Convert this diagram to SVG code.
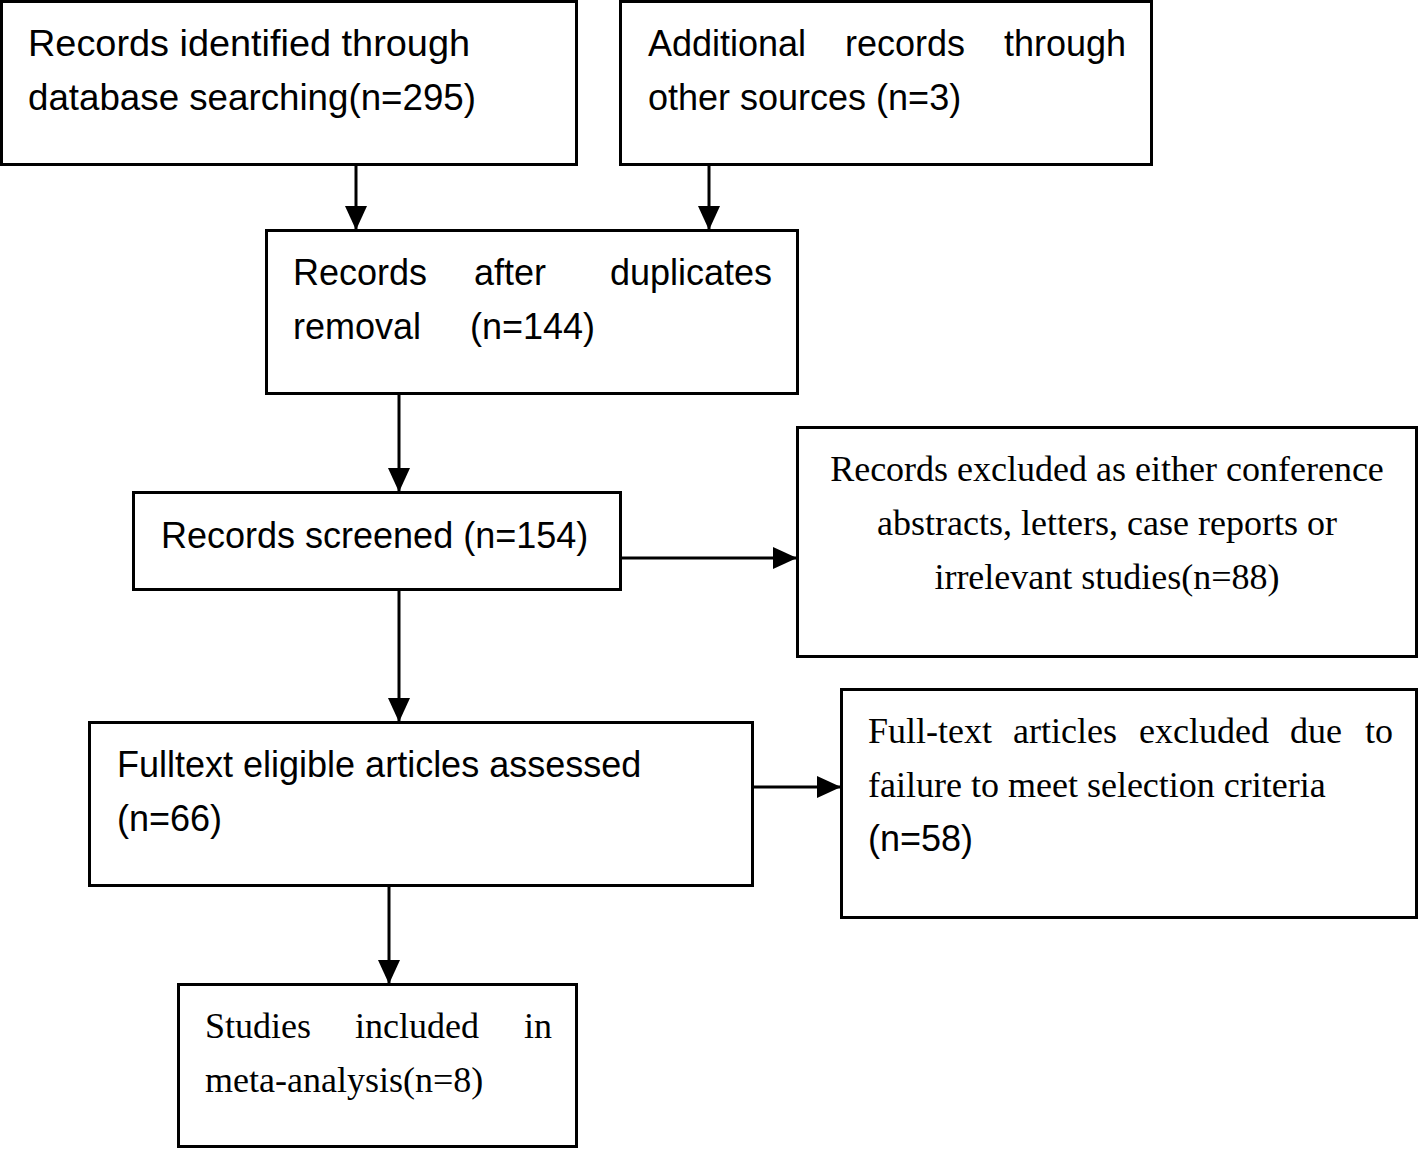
<svg xmlns="http://www.w3.org/2000/svg" width="1418" height="1149" viewBox="0 0 1418 1149">
<style>
.box{fill:#fff;stroke:#000;stroke-width:3}
.sans{font-family:"Liberation Sans",Arial,sans-serif;font-size:36px;fill:#000}
.serif{font-family:"Liberation Serif","Times New Roman",serif;font-size:36px;fill:#000}
.conn{stroke:#000;stroke-width:3;fill:none;marker-end:url(#ah)}
</style>
<defs>
<marker id="ah" markerUnits="userSpaceOnUse" markerWidth="24" markerHeight="22" viewBox="0 0 24 22" refX="24" refY="11" orient="auto">
<path d="M0,0 L24,11 L0,22 Z" fill="#000"/>
</marker>
</defs>
<rect width="1418" height="1149" fill="#fff"/>
<g id="connectors">
<line class="conn" x1="356" y1="164" x2="356" y2="230"/>
<line class="conn" x1="709" y1="164" x2="709" y2="230"/>
<line class="conn" x1="399" y1="393" x2="399" y2="492"/>
<line class="conn" x1="620" y1="558" x2="797" y2="558"/>
<line class="conn" x1="399" y1="589" x2="399" y2="722"/>
<line class="conn" x1="752" y1="787" x2="841" y2="787"/>
<line class="conn" x1="389" y1="885" x2="389" y2="984"/>
</g>
<g id="n1">
<rect class="box" x="1.5" y="1.5" width="575" height="163"/>
<text class="sans" x="28" y="56" textLength="442" lengthAdjust="spacingAndGlyphs">Records identified through</text>
<text class="sans" x="28" y="110" textLength="448" lengthAdjust="spacingAndGlyphs">database searching(n=295)</text>
</g>
<g id="n2">
<rect class="box" x="620.5" y="1.5" width="531" height="163"/>
<text class="sans" y="56"><tspan x="648">Additional</tspan><tspan x="845">records</tspan><tspan x="1004">through</tspan></text>
<text class="sans" x="648" y="110">other sources (n=3)</text>
</g>
<g id="n3">
<rect class="box" x="266.5" y="230.5" width="531" height="163"/>
<text class="sans" y="285"><tspan x="293">Records</tspan><tspan x="474">after</tspan><tspan x="610">duplicates</tspan></text>
<text class="sans" y="339"><tspan x="293">removal</tspan><tspan x="470">(n=144)</tspan></text>
</g>
<g id="n4">
<rect class="box" x="133.5" y="492.5" width="487" height="97"/>
<text class="sans" x="161" y="548">Records screened (n=154)</text>
</g>
<g id="n5">
<rect class="box" x="797.5" y="427.5" width="619" height="229"/>
<text class="serif" x="1107" y="481" text-anchor="middle">Records excluded as either conference</text>
<text class="serif" x="1107" y="535" text-anchor="middle">abstracts, letters, case reports or</text>
<text class="serif" x="1107" y="589" text-anchor="middle">irrelevant studies(n=88)</text>
</g>
<g id="n6">
<rect class="box" x="89.5" y="722.5" width="663" height="163"/>
<text class="sans" x="117" y="777">Fulltext eligible articles assessed</text>
<text class="sans" x="117" y="831">(n=66)</text>
</g>
<g id="n7">
<rect class="box" x="841.5" y="689.5" width="575" height="228"/>
<text class="serif" y="743"><tspan x="868">Full-text</tspan><tspan x="1013">articles</tspan><tspan x="1139">excluded</tspan><tspan x="1290">due</tspan><tspan x="1365">to</tspan></text>
<text class="serif" x="868" y="797">failure to meet selection criteria</text>
<text class="sans" x="868" y="851">(n=58)</text>
</g>
<g id="n8">
<rect class="box" x="178.5" y="984.5" width="398" height="162"/>
<text class="serif" y="1038"><tspan x="205">Studies</tspan><tspan x="355">included</tspan><tspan x="524">in</tspan></text>
<text class="serif" x="205" y="1092">meta-analysis(n=8)</text>
</g>
</svg>
